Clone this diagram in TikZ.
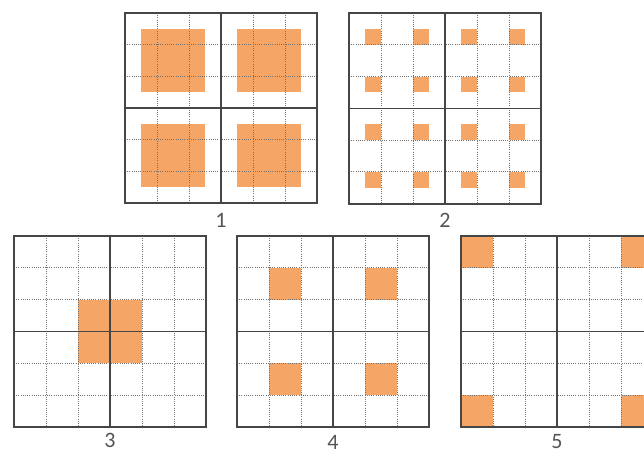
\documentclass[tikz,border=0pt]{standalone}
\usepackage{fontspec}
\setmainfont{Carlito}
\definecolor{org}{RGB}{245,165,102}
\definecolor{gridc}{RGB}{70,70,70}
\definecolor{dotc}{RGB}{115,115,115}
\definecolor{lblc}{RGB}{85,85,85}
\begin{document}
\begin{tikzpicture}[x=1pt,y=-1pt,
  cellfill/.style={fill=org, draw=none},
  dotline/.style={draw=dotc, line width=1pt, dash pattern=on 1pt off 1.2pt},
  frame/.style={draw=gridc, line width=1.7pt},
  lbl/.style={font=\fontsize{22}{22}\selectfont, text=lblc, inner sep=0pt}]
\useasboundingbox (0,0) rectangle (644,454);
\clip (0,0) rectangle (644,454);
\fill[white] (0,0) rectangle (644,454);
\newcommand\gridlines{%
  \foreach \i in {1,2,4,5} {
    \draw[dotline] (\i,0) -- (\i,6);
    \draw[dotline] (0,\i) -- (6,\i);
  }
  \draw[frame] (0,0) rectangle (6,6);
  \draw[frame] (3,0) -- (3,6);
  \draw[frame] (0,3) -- (6,3);
}
% grid 1
\begin{scope}[shift={(125,13)}, x=32pt, y=-31.7pt]
  \foreach \a in {0,3} \foreach \b in {0,3}
    \fill[cellfill] (\a+0.5,\b+0.5) rectangle (\a+2.5,\b+2.5);
  \gridlines
\end{scope}
% grid 2
\begin{scope}[shift={(349,13)}, x=32pt, y=-31.8pt]
  \foreach \a in {0.5,2,3.5,5} \foreach \b in {0.5,2,3.5,5}
    \fill[cellfill] (\a,\b) rectangle (\a+0.5,\b+0.5);
  \gridlines
\end{scope}
% grid 3
\begin{scope}[shift={(14,236)}, x=32pt, y=-31.8pt]
  \fill[cellfill] (2,2) rectangle (4,4);
  \gridlines
\end{scope}
% grid 4
\begin{scope}[shift={(237,236)}, x=32pt, y=-31.8pt]
  \foreach \a in {1,4} \foreach \b in {1,4}
    \fill[cellfill] (\a,\b) rectangle (\a+1,\b+1);
  \gridlines
\end{scope}
% grid 5
\begin{scope}[shift={(461,236)}, x=32pt, y=-31.8pt]
  \foreach \a in {0,5} \foreach \b in {0,5}
    \fill[cellfill] (\a,\b) rectangle (\a+1,\b+1);
  \gridlines
\end{scope}
\node[lbl] (l1) at (221,220) {1};
\node[lbl] (l2) at (445,220) {2};
\node[lbl] (l3) at (110,440) {3};
\node[lbl] (l4) at (333,442) {4};
\node[lbl] (l5) at (557,442) {5};
\end{tikzpicture}
\end{document}
